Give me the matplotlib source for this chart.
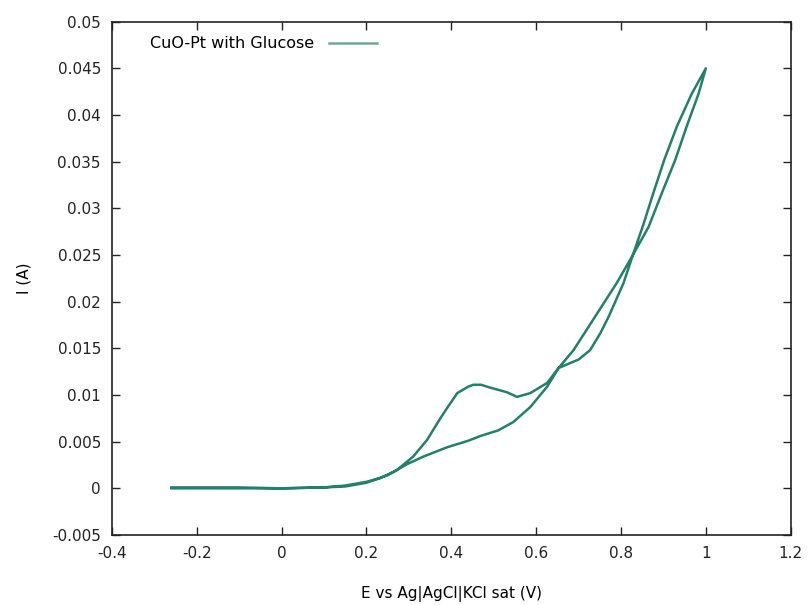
import matplotlib
matplotlib.use('Agg')
import matplotlib.pyplot as plt
from matplotlib.ticker import FuncFormatter, MultipleLocator

# forward scan (oxidation peak near 0.45 V)
fwd_E = [-0.26, -0.2, -0.1, 0.0, 0.1, 0.15, 0.2, 0.232, 0.27, 0.31, 0.343, 0.374, 0.39,
         0.414, 0.44, 0.452, 0.47, 0.491, 0.531, 0.555, 0.586, 0.626, 0.653, 0.70, 0.727,
         0.751, 0.771, 0.806, 0.828, 0.853, 0.876, 0.902, 0.932, 0.967, 1.0]
fwd_I = [0.0001, 0.0001, 0.0001, 0.0000, 0.0001, 0.0003, 0.0007, 0.0011, 0.0019, 0.0034,
         0.0052, 0.0075, 0.0086, 0.0102, 0.0109, 0.0111, 0.0111, 0.0108, 0.0103, 0.0098,
         0.0102, 0.0113, 0.0129, 0.0138, 0.0148, 0.0166, 0.0184, 0.0220, 0.0250, 0.0283,
         0.0316, 0.0352, 0.0388, 0.0423, 0.0450]

# reverse scan
rev_E = [1.0, 0.983, 0.955, 0.928, 0.896, 0.865, 0.828, 0.790, 0.739, 0.688, 0.653, 0.626,
         0.586, 0.546, 0.51, 0.468, 0.44, 0.39, 0.334, 0.296, 0.25, 0.2, 0.15, 0.1, 0.0,
         -0.1, -0.2, -0.26]
rev_I = [0.0450, 0.0423, 0.0388, 0.0352, 0.0316, 0.0280, 0.0250, 0.0220, 0.0184, 0.0148,
         0.0129, 0.0109, 0.0087, 0.0071, 0.0062, 0.0056, 0.0051, 0.0044, 0.0034, 0.0026,
         0.0014, 0.0006, 0.0002, 0.0001, 0.0000, 0.0000, 0.0000, 0.0000]

fig = plt.figure(figsize=(8.11, 6.05), dpi=100)
ax = fig.add_axes([0.1381, 0.1157, 0.8368, 0.8484])

ax.plot(fwd_E + rev_E, fwd_I + rev_I, color='#23806c', lw=1.8, label='CuO-Pt with Glucose')

ax.set_xlim(-0.4, 1.2)
ax.set_ylim(-0.005, 0.05)
ax.xaxis.set_major_locator(MultipleLocator(0.2))
ax.yaxis.set_major_locator(MultipleLocator(0.005))
fmt = FuncFormatter(lambda v, p: '%g' % round(v, 6))
ax.xaxis.set_major_formatter(fmt)
ax.yaxis.set_major_formatter(fmt)
ax.tick_params(direction='in', length=6, width=1, top=True, right=True,
               labelsize=11, pad=8, colors='#222222')
for s in ax.spines.values():
    s.set_color('#222222')
    s.set_linewidth(1.2)

ax.set_xlabel('E vs Ag|AgCl|KCl sat (V)', fontsize=11, labelpad=18)
ax.set_ylabel('I (A)', fontsize=11, labelpad=15)

leg = ax.legend(loc='upper left', frameon=False, markerfirst=False, fontsize=11.5,
                handlelength=3.0, handletextpad=0.9, bbox_to_anchor=(0.035, 1.0))
for h in leg.get_lines():
    h.set_color('#6fa898')

fig.savefig('out.png', dpi=100)
